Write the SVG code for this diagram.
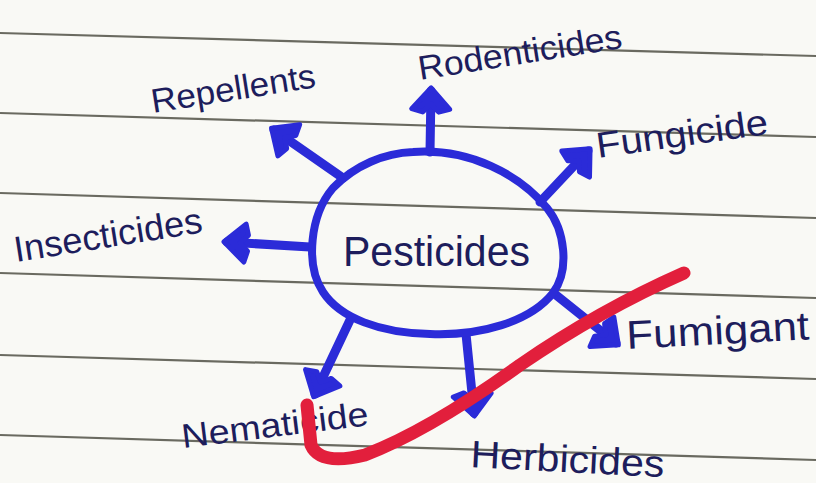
<svg xmlns="http://www.w3.org/2000/svg" width="816" height="483" viewBox="0 0 816 483">
<defs>
<style>
.rule{stroke:#6a6a60;stroke-width:2.2;fill:none}
.edge{stroke:#2b2bd8;stroke-width:9;stroke-linecap:round;fill:none}
.hand{font-family:"Liberation Sans","DejaVu Sans",sans-serif;fill:#1d1d5c}
.oval{stroke:#2b2bd8;stroke-width:8;fill:none;stroke-linejoin:round}
.mark{stroke:#e21f3c;stroke-width:13;stroke-linecap:round;stroke-linejoin:round;fill:none}
</style>
<marker id="head" markerUnits="userSpaceOnUse" viewBox="-25 -25 50 50" markerWidth="50" markerHeight="50" refX="0" refY="0" orient="auto" overflow="visible">
<path d="M 3 0 L -18 -19 L -21 -8 L -13 0 L -21 8 L -18 19 Z" fill="#2b2bd8" stroke="#2b2bd8" stroke-width="5" stroke-linejoin="round"/>
</marker>
</defs>
<rect width="816" height="483" fill="#f9f9f5"/>
<g id="paper">
<line class="rule" x1="0" y1="33" x2="816" y2="56"/>
<line class="rule" x1="0" y1="113" x2="816" y2="137"/>
<line class="rule" x1="0" y1="193" x2="816" y2="218"/>
<line class="rule" x1="0" y1="273" x2="816" y2="298"/>
<line class="rule" x1="0" y1="355" x2="816" y2="379"/>
<line class="rule" x1="0" y1="435" x2="816" y2="460"/>
</g>
<g id="connectors">
<line class="edge" x1="430" y1="152" x2="431" y2="91" marker-end="url(#head)"/>
<line class="edge" x1="343" y1="178" x2="274" y2="130" marker-end="url(#head)"/>
<line class="edge" x1="310" y1="247" x2="227" y2="242" marker-end="url(#head)"/>
<line class="edge" x1="540" y1="202" x2="588" y2="151" marker-end="url(#head)"/>
<line class="edge" x1="556" y1="295" x2="616" y2="343" marker-end="url(#head)"/>
<line class="edge" x1="466" y1="334" x2="474" y2="413" marker-end="url(#head)"/>
<line class="edge" x1="350" y1="320" x2="315" y2="394" marker-end="url(#head)"/>
</g>
<g id="pesticides">
<path class="oval" d="M 413 152 C 470 148 520 175 547 208 C 565 230 570 270 553 293 C 530 322 480 336 430 334 C 380 333 340 318 323 292 C 305 265 310 215 333 188 C 355 165 385 153 413 152 Z"/>
<text class="hand" x="343" y="266" font-size="42" textLength="187" lengthAdjust="spacingAndGlyphs">Pesticides</text>
</g>
<g id="rodenticides">
<text class="hand" x="420" y="80" font-size="34" textLength="206" lengthAdjust="spacingAndGlyphs" transform="rotate(-9 420 80)">Rodenticides</text>
</g>
<g id="repellents">
<text class="hand" x="153" y="113" font-size="34" textLength="166" lengthAdjust="spacingAndGlyphs" transform="rotate(-9 153 113)">Repellents</text>
</g>
<g id="fungicide">
<text class="hand" x="598" y="158" font-size="36" textLength="173" lengthAdjust="spacingAndGlyphs" transform="rotate(-8 598 158)">Fungicide</text>
</g>
<g id="insecticides">
<text class="hand" x="16" y="262" font-size="36" textLength="190" lengthAdjust="spacingAndGlyphs" transform="rotate(-9 16 262)">Insecticides</text>
</g>
<g id="fumigant">
<text class="hand" x="627" y="349" font-size="40" textLength="183" lengthAdjust="spacingAndGlyphs" transform="rotate(-3 627 349)">Fumigant</text>
</g>
<g id="nematicide">
<text class="hand" x="183" y="448" font-size="34" textLength="188" lengthAdjust="spacingAndGlyphs" transform="rotate(-7 183 448)">Nematicide</text>
</g>
<g id="herbicides">
<text class="hand" x="470" y="467" font-size="38" textLength="194" lengthAdjust="spacingAndGlyphs" transform="rotate(3 470 467)">Herbicides</text>
</g>
<g id="annotation">
<path class="mark" d="M 684 273 Q 600 310 520 365 Q 430 430 365 455 Q 320 466 311 445 L 307 405"/>
</g>
</svg>
